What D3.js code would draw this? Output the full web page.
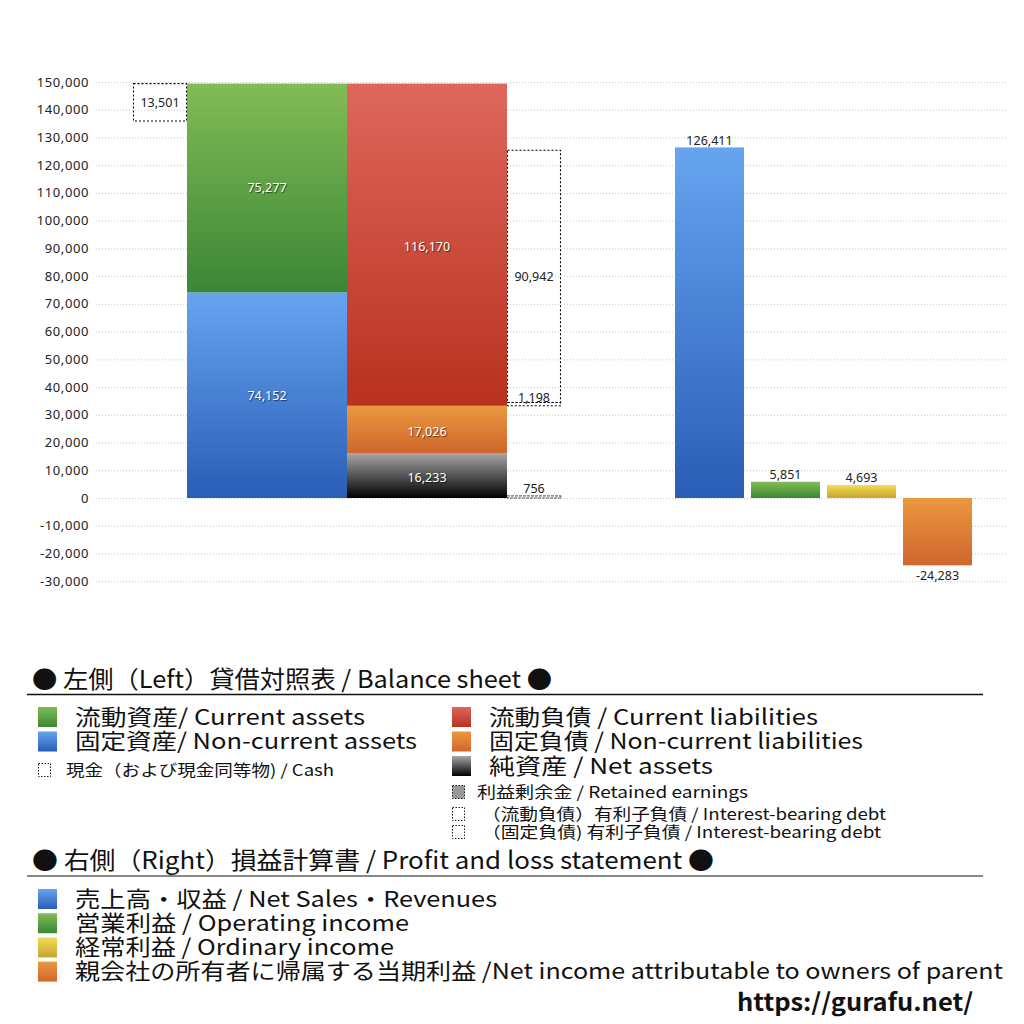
<!DOCTYPE html>
<html>
<head>
<meta charset="utf-8">
<script src="https://cdn.jsdelivr.net/npm/d3@7"></script>
<style>
  body { margin: 0; background: #fff; }
  text { font-family: "Noto Sans", "Noto Sans CJK JP", sans-serif; }
  .jp { font-family: "Noto Sans CJK JP", sans-serif; }
</style>
</head>
<body>
<svg id="chart" width="1024" height="1024"></svg>
<script>
// balance sheet (left)
var bsColumns = ['assets', 'liabilities'];
var assetNames = ['固定資産', '流動資産'];
var assetValues = [74152, 75277];
var liabNames = ['純資産', '固定負債', '流動負債'];
var liabValues = [16233, 17026, 116170];
var cashValue = 13501;
var debtNames = ['固定負債 有利子負債', '流動負債 有利子負債'];
var debtValues = [1198, 90942];
var retainedValue = 756;

// profit and loss (right)
var plNames = ['売上高', '営業利益', '経常利益', '当期利益'];
var plValues = [126411, 5851, 4693, -24283];

var yDomain = [-30000, 150000];

var gradients = {
    blue: ['#66a4f0', '#2a5db6'],
    green: ['#82bc55', '#3b8636'],
    red: ['#de675c', '#b9311f'],
    orange: ['#ea983f', '#d0662d'],
    black: ['#a8a8a8', '#000000'],
    yellow: ['#f3dc55', '#c7a52e']
};

var assetColors = ['blue', 'green'];
var liabColors = ['black', 'orange', 'red'];
var plColors = ['blue', 'green', 'yellow', 'orange'];

var svg = d3.select('#chart');

var defs = svg.append('defs');
Object.keys(gradients).forEach(function(k) {
    var g = defs.append('linearGradient').attr('id', 'g-' + k)
        .attr('x1', 0).attr('y1', 0).attr('x2', 0).attr('y2', 1);
    g.append('stop').attr('offset', '0%').attr('stop-color', gradients[k][0]);
    g.append('stop').attr('offset', '100%').attr('stop-color', gradients[k][1]);
});

var y = d3.scaleLinear().domain(yDomain).range([581.2, 82]);

var xL = d3.scaleBand().domain(bsColumns).range([187, 507]).padding(0);
var boxW = 54;

var xR = d3.scaleBand().domain(plNames).range([671.5, 975.5])
    .paddingInner(0.092).paddingOuter(0.046);

// number format with plain hyphen
var fmt = function(v) { return d3.format(',')(v).replace('\u2212', '-'); };

// grid + y axis
var ticks = y.ticks(18);
svg.append('g').selectAll('line').data(ticks).enter().append('line')
    .attr('x1', 96).attr('x2', 1006)
    .attr('y1', function(d) { return y(d) + 0.5; })
    .attr('y2', function(d) { return y(d) + 0.5; })
    .attr('stroke', '#bbb')
    .attr('stroke-width', 0.8)
    .attr('stroke-dasharray', '1,2');

svg.append('g').selectAll('text').data(ticks).enter().append('text')
    .attr('x', 89)
    .attr('y', function(d) { return y(d); })
    .attr('dy', '0.35em')
    .attr('text-anchor', 'end')
    .attr('font-size', 13)
    .attr('letter-spacing', 0.6)
    .attr('fill', '#222')
    .text(fmt);

// stacking helper
function stack(values) {
    var acc = 0;
    return values.map(function(v, i) {
        var s = { i: i, v: v, y0: acc, y1: acc + v };
        acc += v;
        return s;
    });
}

function innerLabel(g, x, yy, t) {
    g.append('text')
        .attr('x', x).attr('y', yy).attr('dy', '0.35em')
        .attr('text-anchor', 'middle')
        .attr('font-size', 12.5)
        .attr('fill', '#fff')
        .style('text-shadow', '1px 1px 1px rgba(0,0,0,0.55)')
        .text(t);
}

var bs = svg.append('g');

// assets column
stack(assetValues).forEach(function(s) {
    bs.append('rect')
        .attr('x', xL('assets')).attr('width', xL.bandwidth())
        .attr('y', y(s.y1)).attr('height', y(s.y0) - y(s.y1))
        .attr('fill', 'url(#g-' + assetColors[s.i] + ')');
    innerLabel(bs, xL('assets') + xL.bandwidth() / 2, y((s.y0 + s.y1) / 2), fmt(s.v));
});

// liabilities + net assets column
stack(liabValues).forEach(function(s) {
    bs.append('rect')
        .attr('x', xL('liabilities')).attr('width', xL.bandwidth())
        .attr('y', y(s.y1)).attr('height', y(s.y0) - y(s.y1))
        .attr('fill', 'url(#g-' + liabColors[s.i] + ')');
    innerLabel(bs, xL('liabilities') + xL.bandwidth() / 2, y((s.y0 + s.y1) / 2) + 2, fmt(s.v));
});

// cash box (dotted), hanging from the top of assets
var assetTotal = d3.sum(assetValues);
bs.append('rect')
    .attr('x', xL('assets') - boxW + 0.5).attr('width', boxW - 1)
    .attr('y', y(assetTotal)).attr('height', y(assetTotal - cashValue) - y(assetTotal))
    .attr('fill', 'none').attr('stroke', '#000').attr('stroke-width', 1.1)
    .attr('stroke-dasharray', '2,2');
bs.append('text')
    .attr('x', xL('assets') - boxW / 2).attr('y', y(assetTotal - cashValue / 2)).attr('dy', '0.35em')
    .attr('text-anchor', 'middle').attr('font-size', 12.5).attr('fill', '#222')
    .text(fmt(cashValue));

// interest-bearing debt boxes, stacked on top of non-current liabilities
var debtBase = liabValues[0] + liabValues[1];
var debtX = xL('liabilities') + xL.bandwidth();
stack(debtValues).forEach(function(s) {
    var y0 = s.y0 + debtBase, y1 = s.y1 + debtBase;
    bs.append('rect')
        .attr('x', debtX + 0.5).attr('width', boxW - 1)
        .attr('y', y(y1)).attr('height', y(y0) - y(y1))
        .attr('fill', 'none').attr('stroke', '#000').attr('stroke-width', 1.1)
        .attr('stroke-dasharray', '2,2');
    var ty = s.i === 0 ? y(y1) - 5 : y((y0 + y1) / 2);
    bs.append('text')
        .attr('x', debtX + boxW / 2).attr('y', ty).attr('dy', '0.35em')
        .attr('text-anchor', 'middle').attr('font-size', 12.5).attr('fill', '#222')
        .text(fmt(s.v));
});

// retained earnings box
bs.append('rect')
    .attr('x', debtX).attr('width', boxW)
    .attr('y', y(retainedValue)).attr('height', y(0) - y(retainedValue))
    .attr('fill', 'none').attr('stroke', '#000').attr('stroke-width', 0.7)
    .attr('stroke-dasharray', '3,1');
bs.append('text')
    .attr('x', debtX + boxW / 2).attr('y', y(retainedValue) - 7).attr('dy', '0.35em')
    .attr('text-anchor', 'middle').attr('font-size', 12.5).attr('fill', '#222')
    .text(fmt(retainedValue));

// P&L bars
var pl = svg.append('g');
pl.selectAll('rect').data(plValues).enter().append('rect')
    .attr('x', function(d, i) { return xR(plNames[i]); })
    .attr('width', xR.bandwidth())
    .attr('y', function(d) { return y(Math.max(0, d)); })
    .attr('height', function(d) { return Math.abs(y(d) - y(0)); })
    .attr('fill', function(d, i) { return 'url(#g-' + plColors[i] + ')'; });

pl.selectAll('text').data(plValues).enter().append('text')
    .attr('x', function(d, i) { return xR(plNames[i]) + xR.bandwidth() / 2; })
    .attr('y', function(d) { return d >= 0 ? y(d) - 7 : y(d) + 10; })
    .attr('dy', '0.35em')
    .attr('text-anchor', 'middle').attr('font-size', 12.5).attr('fill', '#222')
    .text(fmt);

// legends (w = drawn text width)
var leftTitle = { label: '● 左側（Left）貸借対照表 / Balance sheet ●', w: 520 };
var rightTitle = { label: '● 右側（Right）損益計算書 / Profit and loss statement ●', w: 682 };
var bsLegendLeft = [
    { label: '流動資産/ Current assets', color: 'green', w: 290 },
    { label: '固定資産/ Non-current assets', color: 'blue', w: 342 }
];
var bsLegendRight = [
    { label: '流動負債 /  Current liabilities', color: 'red', w: 329 },
    { label: '固定負債 / Non-current liabilities', color: 'orange', w: 374 },
    { label: '純資産 / Net assets', color: 'black', w: 224 }
];
var cashLegend = { label: '現金（および現金同等物) / Cash', fill: false, w: 268 };
var bsLegendSmallRight = [
    { label: '利益剰余金 / Retained earnings', fill: true, w: 271 },
    { label: '（流動負債）有利子負債 / Interest-bearing debt', fill: false, w: 404 },
    { label: '（固定負債) 有利子負債 / Interest-bearing debt', fill: false, w: 399 }
];
var plLegend = [
    { label: '売上高・収益 / Net Sales・Revenues', color: 'blue', w: 422 },
    { label: '営業利益 / Operating income', color: 'green', w: 334 },
    { label: '経常利益 / Ordinary income', color: 'yellow', w: 319 },
    { label: '親会社の所有者に帰属する当期利益 /Net income attributable to owners of parent', color: 'orange', w: 928 }
];

var lg = svg.append('g').attr('class', 'jp');

function fitText(sel, w) {
    sel.attr('textLength', w).attr('lengthAdjust', 'spacingAndGlyphs');
}

function title(t, yy, lineY, lineColor, lineW) {
    var tx = lg.append('text').attr('x', 32).attr('y', yy).attr('dy', '0.35em')
        .attr('font-size', 24).attr('fill', '#111').attr('class', 'jp').text(t.label);
    fitText(tx, t.w);
    lg.append('line').attr('x1', 27).attr('x2', 983).attr('y1', lineY).attr('y2', lineY)
        .attr('stroke', lineColor).attr('stroke-width', lineW);
}

function bigItems(items, x0, y0, step) {
    items.forEach(function(d, i) {
        var cy = y0 + i * step;
        lg.append('rect').attr('x', x0).attr('y', cy - 10).attr('width', 19).attr('height', 20)
            .attr('fill', 'url(#g-' + d.color + ')');
        var tx = lg.append('text').attr('x', x0 + 37).attr('y', cy).attr('dy', '0.35em')
            .attr('font-size', 22).attr('fill', '#111').attr('class', 'jp').text(d.label);
        fitText(tx, d.w);
    });
}

function smallItem(d, x0, cy, tx) {
    lg.append('rect').attr('x', x0 + 0.5).attr('y', cy - 6.5).attr('width', 12).attr('height', 13)
        .attr('fill', d.fill ? '#999' : 'none')
        .attr('stroke', '#000').attr('stroke-width', 0.9).attr('stroke-dasharray', '1.5,1.5');
    var t = lg.append('text').attr('x', tx).attr('y', cy).attr('dy', '0.35em')
        .attr('font-size', 16).attr('fill', '#111').attr('class', 'jp').text(d.label);
    fitText(t, d.w);
}

title(leftTitle, 680, 694.5, '#111', 1.3);
bigItems(bsLegendLeft, 38, 717, 24.5);
bigItems(bsLegendRight, 452, 717, 24.5);
smallItem(cashLegend, 38, 770, 66);
bsLegendSmallRight.forEach(function(d, i) {
    var cy = i === 0 ? 792 : 814 + (i - 1) * 18;
    smallItem(d, 452, cy, i === 0 ? 477 : 482);
});

title(rightTitle, 861, 876, '#888', 2);
bigItems(plLegend, 38, 899, 24.2);

var url = lg.append('text').attr('x', 737).attr('y', 1003).attr('dy', '0.35em')
    .attr('font-size', 24).attr('font-weight', 'bold')
    .attr('fill', '#111').attr('class', 'jp').text('https://gurafu.net/');
fitText(url, 236);
</script>
</body>
</html>
